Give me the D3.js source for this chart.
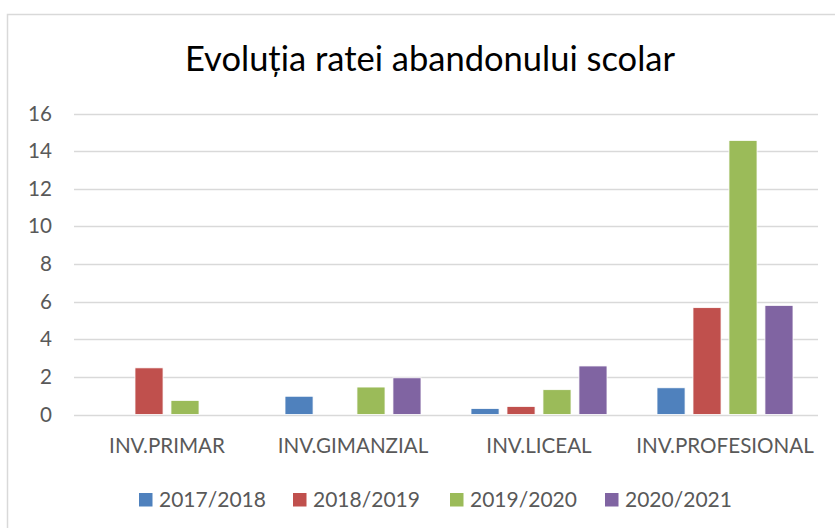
<!DOCTYPE html>
<html>
<head>
<meta charset="utf-8">
<script src="https://cdn.jsdelivr.net/npm/d3@7"></script>
<style>
  body { margin: 0; background: #fff; }
  text { font-family: Lato, sans-serif; }
</style>
</head>
<body>
<div id="chart"></div>
<script>
var categories = ["INV.PRIMAR", "INV.GIMANZIAL", "INV.LICEAL", "INV.PROFESIONAL"];
var seriesNames = ["2017/2018", "2018/2019", "2019/2020", "2020/2021"];
var values2017 = [0, 0.97, 0.32, 1.42];
var values2018 = [2.48, 0, 0.43, 5.68];
var values2019 = [0.75, 1.46, 1.32, 14.57];
var values2020 = [0, 1.95, 2.58, 5.8];
var yTicks = [0, 2, 4, 6, 8, 10, 12, 14, 16];
var colors = ["#4F81BD", "#C0504D", "#9BBB59", "#8064A2"];

var allValues = [values2017, values2018, values2019, values2020];

var width = 835, height = 528;
var margin = { top: 113.5, right: 17, bottom: 113.5, left: 74 };
var labelFont = 20.6;

var svg = d3.select("#chart")
    .append("svg")
    .attr("width", width)
    .attr("height", height);

// chart frame
svg.append("rect")
    .attr("x", 7.5).attr("y", 14.5)
    .attr("width", 860).attr("height", 540)
    .attr("fill", "#fff")
    .attr("stroke", "#d9d9d9")
    .attr("stroke-width", 1.5);

svg.append("text")
    .attr("x", 430)
    .attr("y", 71)
    .attr("text-anchor", "middle")
    .attr("font-size", 34.5)
    .attr("fill", "#000")
    .text("Evoluția ratei abandonului scolar");

var x = d3.scaleBand()
    .domain(categories)
    .range([margin.left, width - margin.right]);

var x1 = d3.scaleBand()
    .domain(seriesNames)
    .range([0, 136])
    .paddingInner(0.22)
    .paddingOuter(0);

var y = d3.scaleLinear()
    .domain([0, 16])
    .range([height - margin.bottom, margin.top]);

// gridlines
svg.append("g")
    .selectAll("line")
    .data(yTicks)
    .join("line")
    .attr("x1", margin.left)
    .attr("x2", width - margin.right)
    .attr("y1", d => Math.round(y(d)) + 0.5)
    .attr("y2", d => Math.round(y(d)) + 0.5)
    .attr("stroke", "#d9d9d9")
    .attr("stroke-width", 1.5);

// y labels
var yAxis = d3.axisLeft(y).tickValues(yTicks).tickSize(0).tickPadding(0);
svg.append("g")
    .attr("transform", "translate(" + 52 + ",0)")
    .call(yAxis)
    .call(g => g.select(".domain").remove())
    .selectAll("text")
    .attr("font-size", labelFont)
    .attr("fill", "#595959")
    .style("font-family", "Lato, sans-serif");

// bars
var groups = svg.append("g")
    .selectAll("g")
    .data(categories)
    .join("g")
    .attr("transform", d => "translate(" + (x(d) + x.bandwidth() / 2 - 68) + ",0)");

groups.selectAll("rect")
    .data((c, i) => seriesNames.map((s, j) => ({ s: s, v: allValues[j][i], c: colors[j] })))
    .join("rect")
    .attr("x", d => x1(d.s))
    .attr("width", x1.bandwidth())
    .attr("y", d => y(d.v))
    .attr("height", d => y(0) - y(d.v))
    .attr("fill", d => d.c)
    .attr("stroke", "#fff")
    .attr("stroke-width", d => d.v > 0 ? 0.8 : 0);

// category labels
var xAxis = d3.axisBottom(x).tickSize(0).tickPadding(0);
svg.append("g")
    .attr("transform", "translate(0," + 438.5 + ")")
    .call(xAxis)
    .call(g => g.select(".domain").remove())
    .selectAll("text")
    .attr("font-size", labelFont)
    .attr("fill", "#595959")
    .style("font-family", "Lato, sans-serif");

// legend
var legendX = [139, 293, 450, 605];
var legend = svg.append("g")
    .selectAll("g")
    .data(seriesNames)
    .join("g")
    .attr("transform", (d, i) => "translate(" + legendX[i] + "," + 506.5 + ")");

legend.append("rect")
    .attr("x", 0).attr("y", -13.5)
    .attr("width", 13.5).attr("height", 13.5)
    .attr("fill", (d, i) => colors[i]);

legend.append("text")
    .attr("x", 20)
    .attr("y", 0)
    .attr("font-size", 21)
    .attr("fill", "#595959")
    .text(d => d);
</script>
</body>
</html>
